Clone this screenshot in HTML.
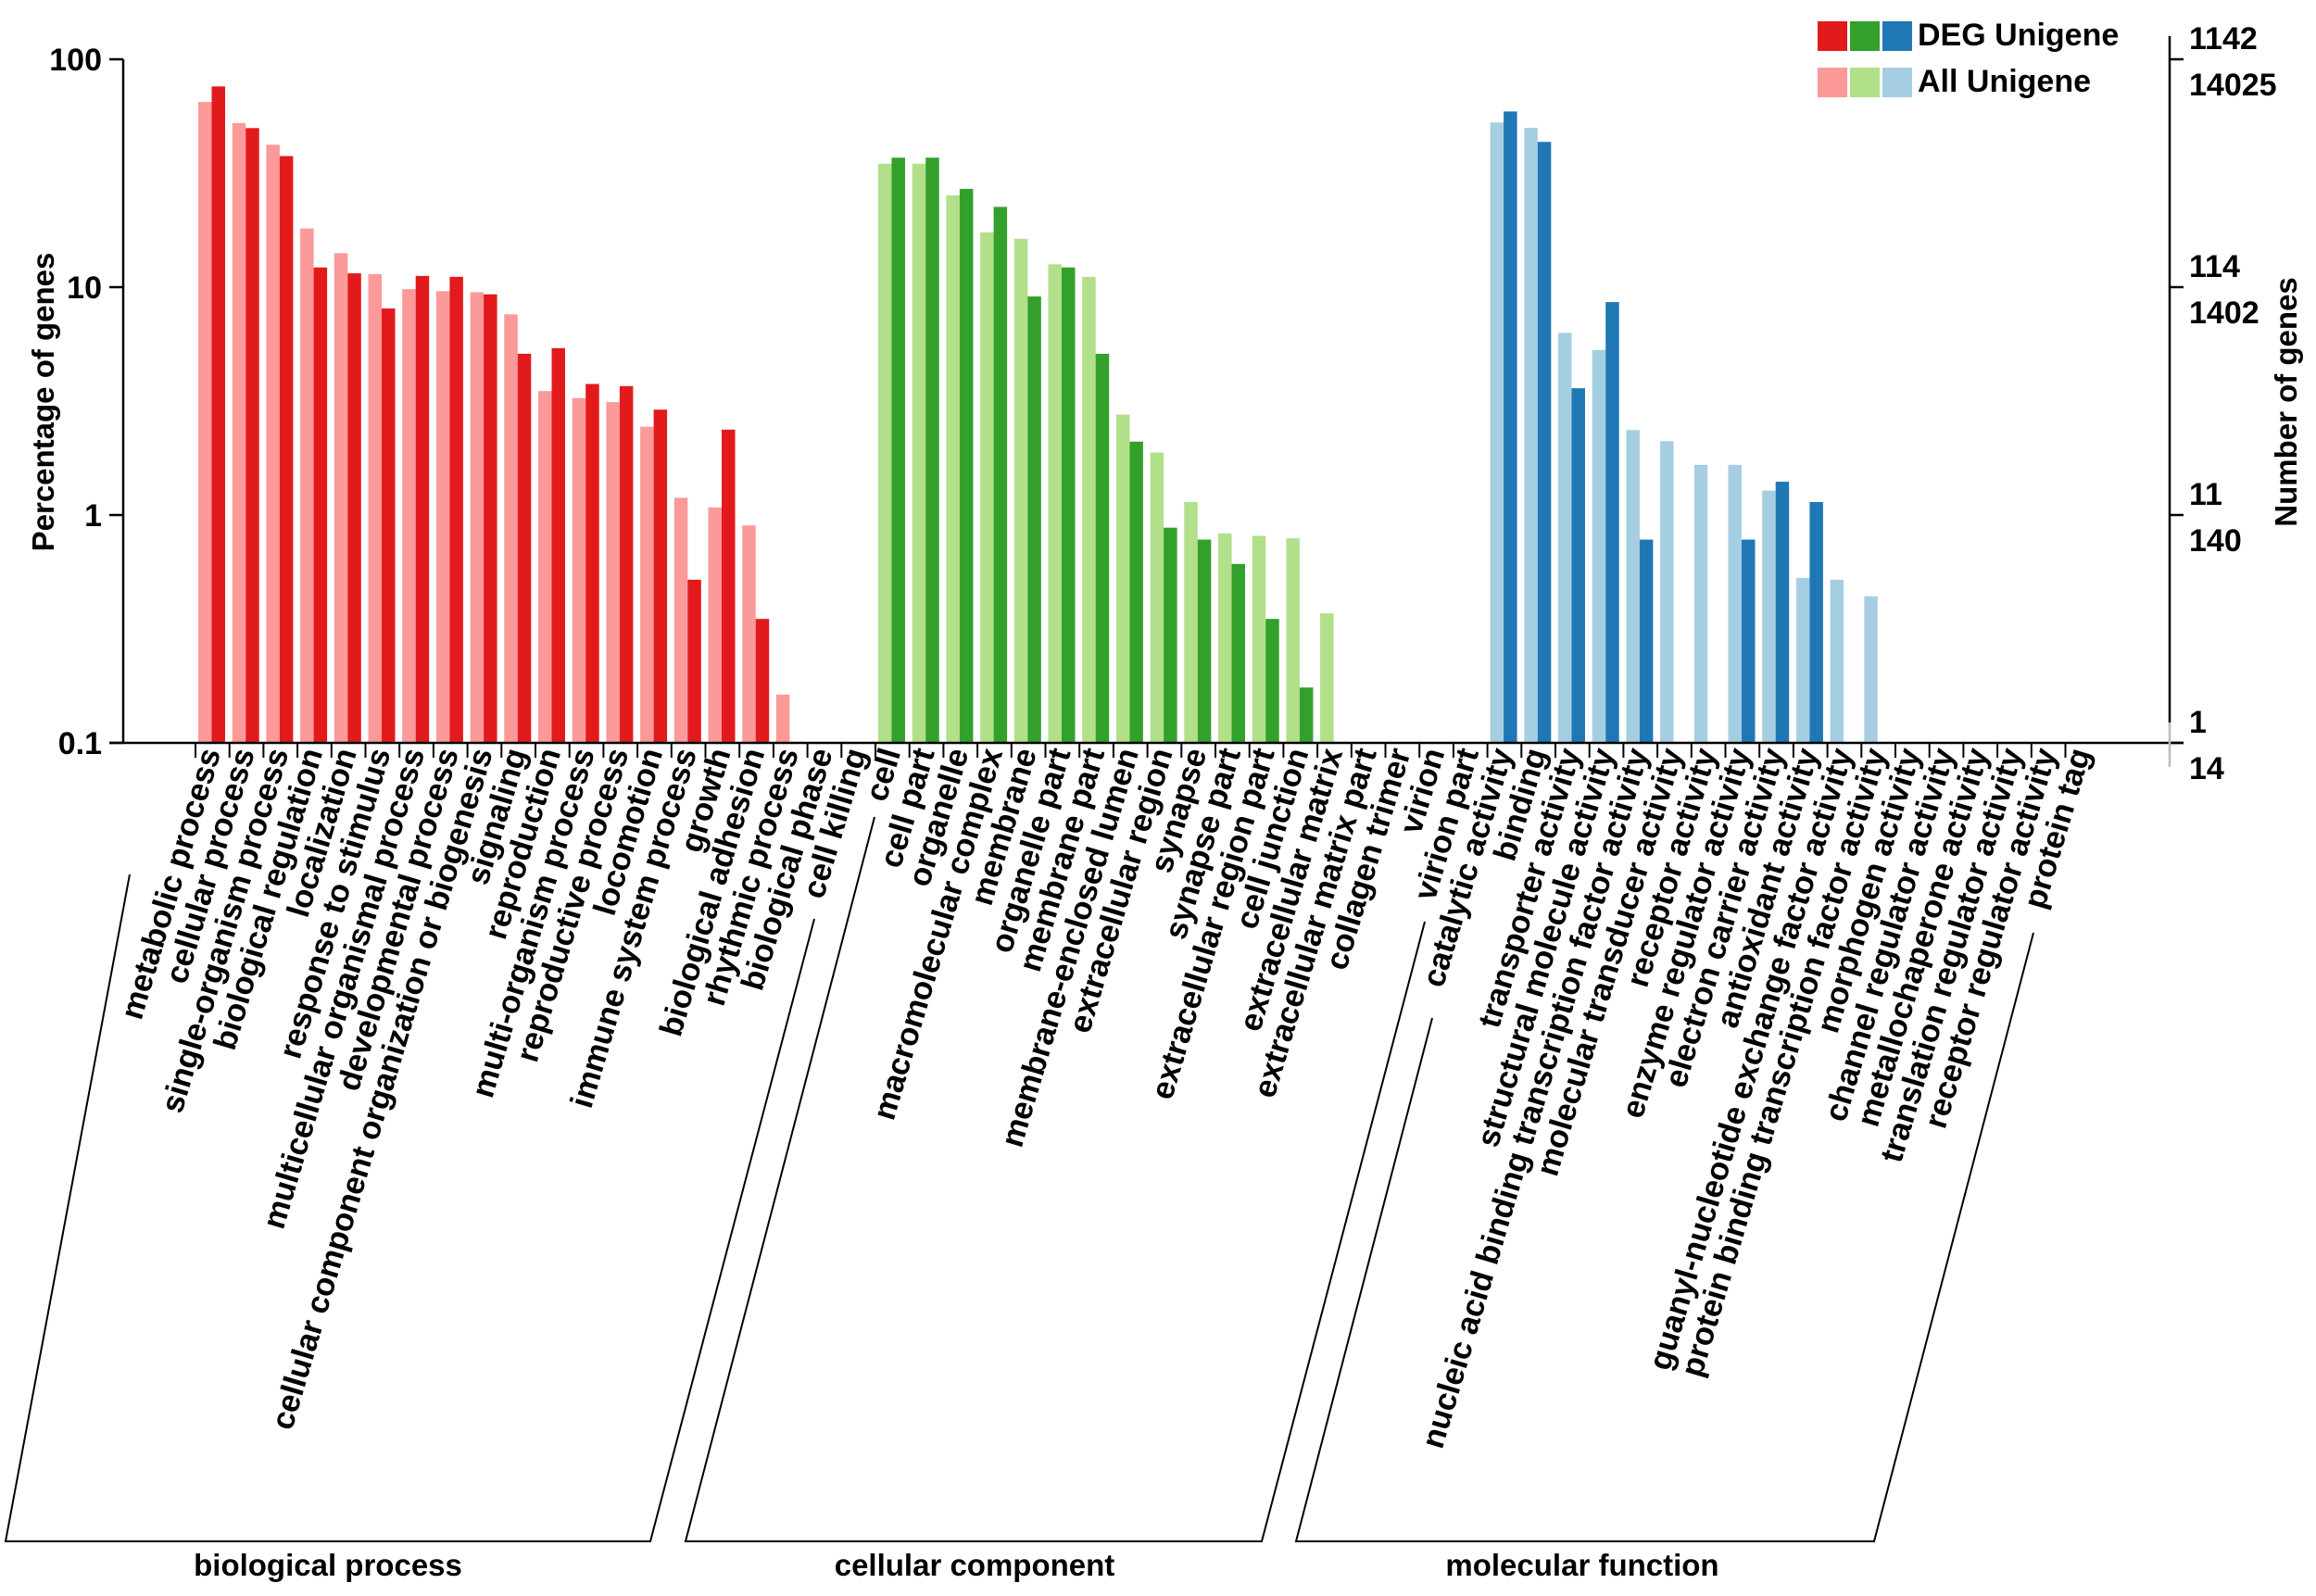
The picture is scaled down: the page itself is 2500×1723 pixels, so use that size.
<!DOCTYPE html>
<html><head><meta charset="utf-8">
<style>
html,body{margin:0;padding:0;background:#fff;}
svg{display:block;font-family:"Liberation Sans",Arial,sans-serif;}
</style></head>
<body>
<svg id="chart" width="2500" height="1723" viewBox="0 0 2500 1723" xmlns="http://www.w3.org/2000/svg">
  <g id="bars"></g>
  <g id="axes"></g>
  <g id="labels"></g>
  <g id="legend">
    <rect x="1962" y="23" width="32" height="32" fill="#e31a1c"/>
    <rect x="1997" y="23" width="32" height="32" fill="#33a02c"/>
    <rect x="2032" y="23" width="32" height="32" fill="#1f78b4"/>
    <text x="2070" y="49" font-size="34" font-weight="bold">DEG Unigene</text>
    <rect x="1962" y="73" width="32" height="32" fill="#fb9a99"/>
    <rect x="1997" y="73" width="32" height="32" fill="#b2df8a"/>
    <rect x="2032" y="73" width="32" height="32" fill="#a6cee3"/>
    <text x="2070" y="99" font-size="34" font-weight="bold">All Unigene</text>
  </g>
  <text transform="translate(58,434) rotate(-90)" text-anchor="middle" font-size="33" font-weight="bold">Percentage of genes</text>
  <text transform="translate(2479,434) rotate(-90)" text-anchor="middle" font-size="33" font-weight="bold">Number of genes</text>
  <g stroke="#000" stroke-width="2" fill="none">
    <polyline points="140,944 6,1664 702,1664 879,992"/>
    <polyline points="944,882 740,1664 1362,1664 1538,995"/>
    <polyline points="1546,1099 1399,1664 2023,1664 2195,1007"/>
  </g>
  <text x="354" y="1701" text-anchor="middle" font-size="33" font-weight="bold">biological process</text>
  <text x="1052" y="1701" text-anchor="middle" font-size="33" font-weight="bold">cellular component</text>
  <text x="1708" y="1701" text-anchor="middle" font-size="33" font-weight="bold">molecular function</text>
</svg>
<script>
const categories = ["metabolic process","cellular process","single-organism process","biological regulation","localization","response to stimulus","multicellular organismal process","developmental process","cellular component organization or biogenesis","signaling","reproduction","multi-organism process","reproductive process","locomotion","immune system process","growth","biological adhesion","rhythmic process","biological phase","cell killing",
"cell","cell part","organelle","macromolecular complex","membrane","organelle part","membrane part","membrane-enclosed lumen","extracellular region","synapse","synapse part","extracellular region part","cell junction","extracellular matrix","extracellular matrix part","collagen trimer","virion","virion part",
"catalytic activity","binding","transporter activity","structural molecule activity","nucleic acid binding transcription factor activity","molecular transducer activity","receptor activity","enzyme regulator activity","electron carrier activity","antioxidant activity","guanyl-nucleotide exchange factor activity","protein binding transcription factor activity","morphogen activity","channel regulator activity","metallochaperone activity","translation regulator activity","receptor regulator activity","protein tag"];
const groups = ["bp","bp","bp","bp","bp","bp","bp","bp","bp","bp","bp","bp","bp","bp","bp","bp","bp","bp","bp","bp",
"cc","cc","cc","cc","cc","cc","cc","cc","cc","cc","cc","cc","cc","cc","cc","cc","cc","cc",
"mf","mf","mf","mf","mf","mf","mf","mf","mf","mf","mf","mf","mf","mf","mf","mf","mf","mf"];
const allUnigene = [65,52.5,42.2,18.1,14.1,11.4,9.8,9.6,9.5,7.6,3.5,3.26,3.13,2.44,1.19,1.08,0.90,0.163,0,0,
34.8,34.8,25.3,17.4,16.3,12.6,11.1,2.76,1.88,1.14,0.83,0.81,0.79,0.37,0,0,0,0,
52.8,50,6.3,5.3,2.36,2.11,1.66,1.66,1.28,0.53,0.52,0.44,0,0,0,0,0,0];
const degUnigene = [76,49.9,37.6,12.2,11.5,8.06,11.2,11.1,9.3,5.1,5.4,3.76,3.68,2.9,0.52,2.37,0.35,0,0,0,
37,37,27,22.5,9.1,12.2,5.1,2.1,0.88,0.78,0.61,0.35,0.175,0,0,0,0,0,
59,43.4,3.6,8.6,0.78,0,0,0.78,1.4,1.14,0,0,0,0,0,0,0,0];
const leftTicks = [0.1,1,10,100];
const leftTickLabels = ["0.1","1","10","100"];
const rightTickUpper = ["1","11","114","1142"];
const rightTickLower = ["14","140","1402","14025"];

const NS = "http://www.w3.org/2000/svg";
const colors = {bp:["#fb9a99","#e31a1c"], cc:["#b2df8a","#33a02c"], mf:["#a6cee3","#1f78b4"]};
const X0 = 211, SLOT = 36.7, BASE = 802, DECADE = 246, AXL = 133, AXR = 2342;
function yScale(v){ return BASE - (Math.log10(v) + 1) * DECADE; }
function xSlot(i){ return X0 + i * SLOT; }
function mk(tag, attrs, parent){ const e = document.createElementNS(NS, tag); for (const k in attrs) e.setAttribute(k, attrs[k]); parent.appendChild(e); return e; }

const barsG = document.getElementById('bars');
categories.forEach((c, i) => {
  const s = xSlot(i), col = colors[groups[i]];
  if (allUnigene[i] > 0) {
    const y = yScale(allUnigene[i]);
    const r = mk('rect', {x: s + 3, y: y, width: 14.5, height: BASE - y, fill: col[0]}, barsG);
    
    
  }
  if (degUnigene[i] > 0) {
    const y = yScale(degUnigene[i]);
    const r = mk('rect', {x: s + 17.5, y: y, width: 14.5, height: BASE - y, fill: col[1]}, barsG);
    
    
  }
});

const ax = document.getElementById('axes');
const la = mk('line', {x1: AXL, y1: yScale(100), x2: AXL, y2: BASE, stroke: '#000', 'stroke-width': 2.5}, ax);


const xa = mk('line', {x1: 118, y1: BASE, x2: 2357, y2: BASE, stroke: '#000', 'stroke-width': 2.5}, ax);


leftTicks.forEach((v, k) => {
  const y = yScale(v);
  const t = mk('line', {x1: 118, y1: y, x2: AXL, y2: y, stroke: '#000', 'stroke-width': 2.5}, ax);
  
  
  const tx = mk('text', {x: 110, y: y + 12, 'text-anchor': 'end', 'font-size': 34, 'font-weight': 'bold'}, ax);
  tx.textContent = leftTickLabels[k];
  
  
  const rt = mk('line', {x1: AXR, y1: y, x2: 2357, y2: y, stroke: '#000', 'stroke-width': 2.5}, ax);
  
  
  const u = mk('text', {x: 2363, y: y - 11, 'font-size': 34, 'font-weight': 'bold'}, ax);
  u.textContent = rightTickUpper[k];
  
  
  const l = mk('text', {x: 2363, y: y + 39, 'font-size': 34, 'font-weight': 'bold'}, ax);
  l.textContent = rightTickLower[k];
  
  
});
const ra = mk('line', {x1: AXR, y1: 39, x2: AXR, y2: 780, stroke: '#000', 'stroke-width': 2.5}, ax);


const ra2 = mk('line', {x1: AXR, y1: 780, x2: AXR, y2: 828, stroke: '#bbb', 'stroke-width': 2.5}, ax);



const lg = document.getElementById('labels');
categories.forEach((c, i) => {
  const s = xSlot(i);
  const tk = mk('line', {x1: s, y1: BASE, x2: s, y2: BASE + 16, stroke: '#000', 'stroke-width': 2}, lg);
  
  
  const cx = s + SLOT / 2 + 9;
  const t = mk('text', {transform: 'translate(' + cx + ',812) rotate(-73.5)', 'text-anchor': 'end', 'font-size': 34.5, 'font-weight': 'bold'}, lg);
  t.textContent = c;
  
  
});
</script>
</body></html>
